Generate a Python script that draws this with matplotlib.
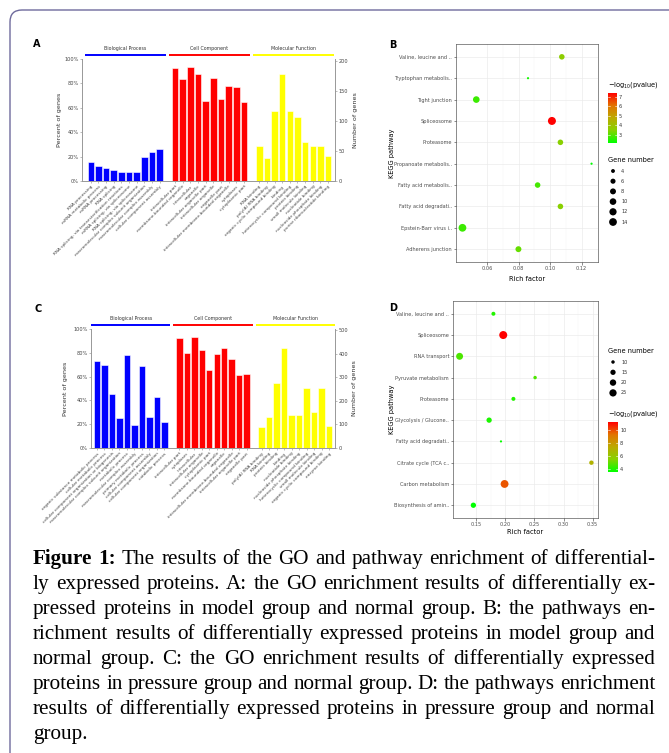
""" GO and KEGG enrichment figure (panels A-D) with its caption. """

import matplotlib
matplotlib.use("Agg")
import matplotlib.pyplot as plt
import numpy as np
from matplotlib.colors import LinearSegmentedColormap, Normalize
from matplotlib.colorbar import ColorbarBase
from matplotlib.patches import FancyBboxPatch

# Figure size in pixels (saved at 100 dpi)
W, H = 669, 753

# GO categories shared by panels A and C
go_groups = ["Biological Process", "Cell Component", "Molecular Function"]
go_colors = ["#0000FF", "#FF0000", "#FFFF00"]

# Panel A: GO enrichment, model group vs normal group
a_bp_terms = ["RNA processing", "mRNA metabolic process", "mRNA processing",
              "RNA splicing", "RNA splicing, via transesterification reactions",
              "mRNA splicing, via spliceosome", "RNA splicing, via spliceosome",
              "macromolecular complex subunit organization",
              "macromolecular complex assembly", "cellular component assembly"]
a_bp_pct = [15.7, 12.6, 11.0, 9.3, 7.7, 7.7, 7.7, 19.5, 23.6, 26.1]
a_cc_terms = ["intracellular part", "membrane-bounded organelle", "intracellular",
              "organelle", "intracellular organelle part", "intracellular organelle",
              "organelle part", "intracellular membrane-bounded organelle",
              "cytoplasm", "cytoplasmic part"]
a_cc_pct = [93.0, 84.0, 93.7, 88.0, 65.7, 84.6, 67.0, 77.5, 77.0, 64.5]
a_mf_terms = ["RNA binding", "poly(A) RNA binding", "organic cyclic compound binding",
              "binding", "heterocyclic compound binding", "protein binding",
              "small molecule binding", "nucleotide binding",
              "nucleoside phosphate binding", "purine ribonucleotide binding"]
a_mf_pct = [28.8, 18.7, 57.7, 88.0, 57.4, 52.2, 32.0, 29.0, 29.0, 20.9]
a_total_genes = 204
a_count_ticks = [0, 50, 100, 150, 200]

# Panel C: GO enrichment, pressure group vs normal group
c_bp_terms = ["organic substance metabolic process", "cellular metabolic process",
              "cellular component organization or biogenesis",
              "macromolecular complex subunit organization", "metabolic process",
              "macromolecular complex assembly", "primary metabolic process",
              "cellular component assembly", "cellular component organization",
              "catabolic process"]
c_bp_pct = [72.7, 69.6, 45.4, 24.8, 78.3, 19.7, 68.7, 26.2, 43.1, 22.0]
c_cc_terms = ["intracellular part", "cytoplasm", "intracellular",
              "intracellular organelle", "cytoplasmic part",
              "membrane-bounded organelle", "organelle",
              "intracellular membrane-bounded organelle",
              "intracellular organelle part", "organelle part"]
c_cc_pct = [92.1, 79.7, 93.0, 82.3, 65.9, 78.9, 84.2, 74.4, 61.4, 62.5]
c_mf_terms = ["poly(A) RNA binding", "RNA binding", "protein binding", "binding",
              "nucleotide binding", "nucleoside phosphate binding",
              "heterocyclic compound binding", "small molecule binding",
              "organic cyclic compound binding", "enzyme binding"]
c_mf_pct = [17.5, 25.9, 54.4, 83.9, 27.6, 27.6, 50.1, 30.1, 50.1, 18.3]
c_total_genes = 505
c_count_ticks = [0, 100, 200, 300, 400, 500]

# Panel B: KEGG pathways, model group vs normal group (top to bottom)
b_paths = ["Valine, leucine and ..", "Tryptophan metabolis..", "Tight junction",
           "Spliceosome", "Proteasome", "Propanoate metabolis..",
           "Fatty acid metabolis..", "Fatty acid degradati..",
           "Epstein-Barr virus i..", "Adherens junction"]
b_rich = [0.1074, 0.0859, 0.0530, 0.1011, 0.1065, 0.1263, 0.0920, 0.1065, 0.0442, 0.0798]
b_genes = [7, 3, 10, 15, 7, 3, 7, 7, 14, 8]
b_logp = [3.6, 2.3, 2.7, 7.4, 3.5, 2.1, 2.8, 3.5, 2.7, 3.1]
b_rich_ticks = [0.06, 0.08, 0.10, 0.12]
b_gene_breaks = [4, 6, 8, 10, 12, 14]
b_logp_ticks = [3, 4, 5, 6, 7]

# Panel D: KEGG pathways, pressure group vs normal group (top to bottom)
d_paths = ["Valine, leucine and ..", "Spliceosome", "RNA transport",
           "Pyruvate metabolism", "Proteasome", "Glycolysis / Glucone..",
           "Fatty acid degradati..", "Citrate cycle (TCA c..",
           "Carbon metabolism", "Biosynthesis of amin.."]
d_rich = [0.1794, 0.1963, 0.1212, 0.2511, 0.2138, 0.1720, 0.1924, 0.3480, 0.1986, 0.1449]
d_genes = [11, 30, 23, 10, 11, 15, 9, 12, 29, 15]
d_logp = [4.0, 11.25, 4.6, 4.6, 4.0, 3.9, 3.6, 7.0, 9.8, 3.5]
d_rich_ticks = [0.15, 0.20, 0.25, 0.30, 0.35]
d_gene_breaks = [10, 15, 20, 25]
d_logp_ticks = [4, 6, 8, 10]

caption_lines = [
    "Figure 1: The results of the GO and pathway enrichment of differential-",
    "ly expressed proteins. A: the GO enrichment results of differentially ex-",
    "pressed proteins in model group and normal group. B: the pathways en-",
    "richment results of differentially expressed proteins in model group and",
    "normal group. C: the GO enrichment results of differentially expressed",
    "proteins in pressure group and normal group. D: the pathways enrichment",
    "results of differentially expressed proteins in pressure group and normal",
    "group.",
]

# ggplot-like green -> red gradient
cmap = LinearSegmentedColormap.from_list(
    "green_red", ["#00FF00", "#86D200", "#BBAA00", "#E27300", "#FF0000"])

fig = plt.figure(figsize=(W / 100, H / 100), dpi=100)
fig.patch.set_facecolor("white")


def px_rect(left, top, right, bottom):
    """ Convert a pixel box (origin top-left) to figure fractions. """
    return [left / W, 1 - bottom / H, (right - left) / W, (bottom - top) / H]


def dot_area(n, lo, hi, dmin, dmax):
    """ Marker area (pt^2) for a gene count, area scaled like ggplot. """
    frac = np.sqrt((np.asarray(n, float) - lo) / (hi - lo))
    d_px = dmin + frac * (dmax - dmin)
    return (d_px * 0.72) ** 2


def plot_go(rect, groups, total_genes, count_ticks, xlim, ylab_x):
    """ WEGO style bar chart of three GO categories. """
    ax = fig.add_axes(px_rect(*rect))
    ticks, labels = [], []
    for g, (terms, pct) in enumerate(groups):
        xs = np.arange(len(terms)) + g * (len(terms) + 1)
        ax.bar(xs, pct, width=0.86, color=go_colors[g], edgecolor="white",
               linewidth=0.4, zorder=2)
        ax.plot([xs[0] - 0.8, xs[-1] + 0.8], [103.5, 103.5], color=go_colors[g],
                lw=1.4, clip_on=False, solid_capstyle="butt")
        ax.text(xs.mean(), 108.5, go_groups[g], ha="center", va="center",
                fontsize=3.4, color="#333333")
        ticks.extend(xs)
        labels.extend(terms)

    ax.set_xlim(*xlim)
    ax.set_ylim(0, 100)
    ax.set_yticks([0, 20, 40, 60, 80, 100])
    ax.set_yticklabels(["0%", "20%", "40%", "60%", "80%", "100%"])
    ax.set_xticks(ticks)
    ax.set_xticklabels(labels, rotation=45, ha="right", rotation_mode="anchor")
    ax.tick_params(labelsize=3.1, length=1.5, width=0.4, colors="#888888",
                   labelcolor="#444444", pad=1)
    ax.tick_params(axis="y", labelsize=3.6)
    ax.set_ylabel("Percent of genes", fontsize=4.6, color="#333333")
    ax.yaxis.set_label_coords(ylab_x[0], 0.5)

    ax2 = ax.twinx()
    ax2.set_ylim(0, total_genes)
    ax2.set_yticks(count_ticks)
    ax2.tick_params(labelsize=3.6, length=1.5, width=0.4, colors="#888888",
                    labelcolor="#444444", pad=1)
    ax2.set_ylabel("Number of genes", fontsize=4.6, color="#333333")
    ax2.yaxis.set_label_coords(ylab_x[1], 0.5)

    for a in (ax, ax2):
        a.spines["top"].set_visible(False)
        for side in ("left", "right", "bottom"):
            a.spines[side].set_color("#999999")
            a.spines[side].set_linewidth(0.6)
    return ax


def plot_kegg(rect, paths, rich, genes, logp, rich_ticks, ylab_x, xlab_y):
    """ ggplot theme_bw style bubble chart of enriched pathways. """
    ax = fig.add_axes(px_rect(*rect))
    ys = np.arange(len(paths))[::-1] + 1
    ax.scatter(rich, ys, s=dot_area(genes, min(genes), max(genes), 2.2, 8.0),
               c=logp, cmap=cmap, vmin=min(logp), vmax=max(logp),
               edgecolors="none", zorder=3)
    span = max(rich) - min(rich)
    ax.set_xlim(min(rich) - 0.05 * span, max(rich) + 0.05 * span)
    ax.set_ylim(0.4, len(paths) + 0.6)
    ax.set_yticks(ys)
    ax.set_yticklabels(paths)
    ax.set_xticks(rich_ticks)
    ax.set_xticklabels(["%.2f" % t for t in rich_ticks])
    ax.set_xticks(np.array(rich_ticks[:-1]) + np.diff(rich_ticks) / 2, minor=True)
    ax.tick_params(which="minor", length=0)
    ax.tick_params(labelsize=3.6, length=1.8, width=0.4, colors="#333333",
                   labelcolor="#4D4D4D", pad=1)
    ax.grid(which="major", color="#EBEBEB", lw=0.5)
    ax.grid(which="minor", axis="x", color="#F3F3F3", lw=0.3)
    ax.set_axisbelow(True)
    for s in ax.spines.values():
        s.set_color("#333333")
        s.set_linewidth(0.4)
    ax.set_ylabel("KEGG pathway", fontsize=4.8)
    ax.yaxis.set_label_coords(ylab_x, 0.5)
    ax.set_xlabel("Rich factor", fontsize=4.8)
    ax.xaxis.set_label_coords(0.5, xlab_y)
    return ax


def color_legend(rect, title_y, logp, ticks):
    """ -log10(pvalue) colourbar with its title. """
    cax = fig.add_axes(px_rect(*rect))
    cb = ColorbarBase(cax, cmap=cmap, norm=Normalize(min(logp), max(logp)))
    cb.outline.set_visible(False)
    cb.set_ticks(ticks)
    cax.tick_params(labelsize=3.6, length=0, labelcolor="#333333", pad=1.5)
    for t in ticks:
        cax.axhline(t, xmin=0, xmax=0.2, color="white", lw=0.4)
        cax.axhline(t, xmin=0.8, xmax=1, color="white", lw=0.4)
    fig.text(rect[0] / W, 1 - title_y / H, r"$-\mathrm{log}_{10}$(pvalue)",
             fontsize=4.8, va="center", ha="left")


def size_legend(x, title_y, first_y, step, breaks, genes, dmin, dmax):
    """ Gene number legend: black dots with their counts. """
    fig.text(x / W, 1 - title_y / H, "Gene number", fontsize=4.8,
             va="center", ha="left")
    ys = first_y + step * np.arange(len(breaks))
    overlay.scatter(np.full(len(breaks), x + 5), ys,
                    s=dot_area(breaks, min(genes), max(genes), dmin, dmax),
                    color="black", edgecolors="none")
    for b, y in zip(breaks, ys):
        overlay.text(x + 13, y, str(b), fontsize=3.6, va="center", ha="left",
                     color="#333333")


# Overlay in pixel coordinates for the frame, legends and caption
overlay = fig.add_axes([0, 0, 1, 1])
overlay.set_xlim(0, W)
overlay.set_ylim(H, 0)
overlay.axis("off")

# Rounded frame around the figure (runs off the right and bottom edges)
frame = FancyBboxPatch((0.10, -0.5), 7.2, 7.93,
                       boxstyle="round,pad=0,rounding_size=0.12",
                       transform=fig.dpi_scale_trans, facecolor="none",
                       edgecolor="#6E6A9C", lw=1.0)
fig.patches.append(frame)

# Panels A and C
plot_go((82, 59, 335, 181),
        [(a_bp_terms, a_bp_pct), (a_cc_terms, a_cc_pct), (a_mf_terms, a_mf_pct)],
        a_total_genes, a_count_ticks, (-1.15, 31.9), (-0.08, 1.07))
plot_go((91, 329, 335, 448),
        [(c_bp_terms, c_bp_pct), (c_cc_terms, c_cc_pct), (c_mf_terms, c_mf_pct)],
        c_total_genes, c_count_ticks, (-0.8, 31.8), (-0.095, 1.07))

# Panels B and D
plot_kegg((456, 44, 598, 262), b_paths, b_rich, b_genes, b_logp,
          b_rich_ticks, -0.43, -0.065)
color_legend((608, 93, 617, 143), 85, b_logp, b_logp_ticks)
size_legend(608, 160, 171, 10.2, b_gene_breaks, b_genes, 2.2, 8.0)

plot_kegg((453, 301, 598, 518), d_paths, d_rich, d_genes, d_logp,
          d_rich_ticks, -0.40, -0.05)
size_legend(608, 351, 362, 10.3, d_gene_breaks, d_genes, 2.2, 8.0)
color_legend((608, 422, 618, 472), 414, d_logp, d_logp_ticks)

# Panel letters
for letter, (lx, ly) in zip("ABCD", [(37, 44), (393, 45), (38, 309), (393, 308)]):
    overlay.text(lx, ly, letter, fontsize=7, fontweight="bold", ha="center",
                 va="center")

# Justified caption
renderer = fig.canvas.get_renderer()
cap_left, cap_right, base0, line_step = 33, 655, 564, 25
cap_font = dict(family="Liberation Serif", fontsize=15.2)
for i, line in enumerate(caption_lines):
    words = line.split(" ")
    texts = []
    for j, w in enumerate(words):
        weight = "bold" if (i == 0 and j < 2) else "normal"
        texts.append(overlay.text(0, base0 + i * line_step, w, va="baseline",
                                  ha="left", fontweight=weight, **cap_font))
    widths = [t.get_window_extent(renderer).width for t in texts]
    if i < len(caption_lines) - 1:
        gap = (cap_right - cap_left - sum(widths)) / (len(words) - 1)
    else:
        gap = texts[0].get_window_extent(renderer).height * 0.25
    x = cap_left
    for t, w in zip(texts, widths):
        t.set_x(x)
        x += w + gap

fig.savefig("out.png", dpi=100, facecolor="white")
